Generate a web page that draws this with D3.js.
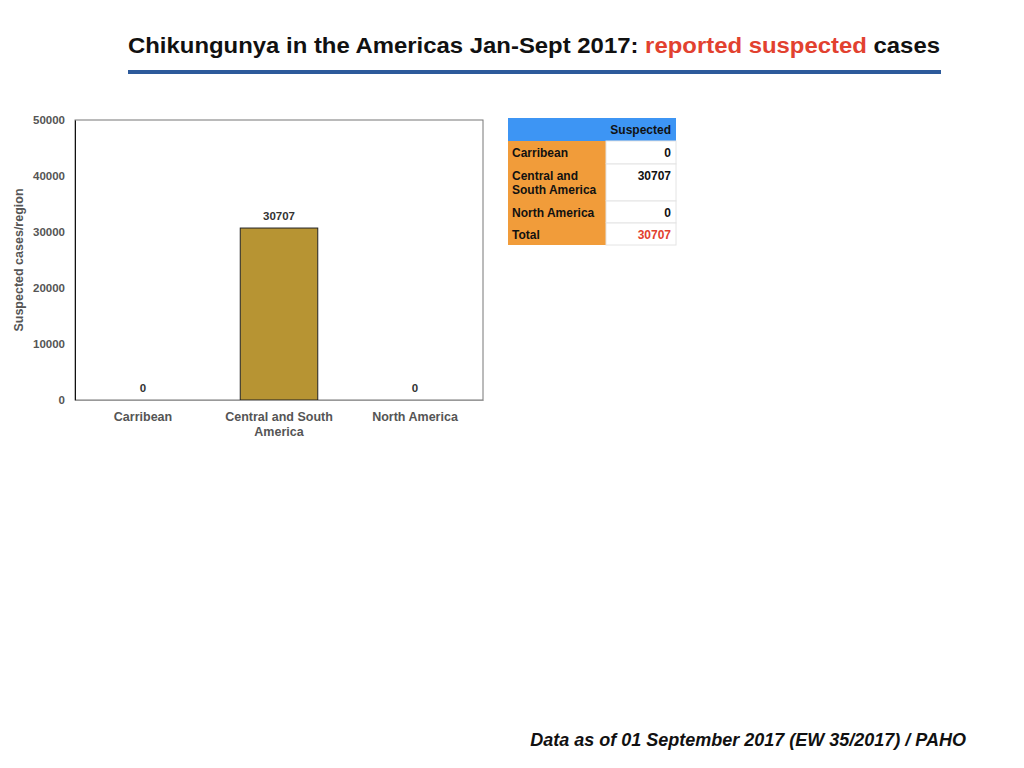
<!DOCTYPE html>
<html>
<head>
<meta charset="utf-8">
<script src="https://cdn.jsdelivr.net/npm/d3@7"></script>
<style>
  body { margin: 0; background: #fff; }
  svg { display: block; font-family: "Liberation Sans", Arial, sans-serif; }
</style>
</head>
<body>
<svg width="1024" height="768"></svg>
<script>
// chart data
let regions = ['Carribean', 'Central and South America', 'North America'];
let suspected = [0, 30707, 0];
let yTicks = [0, 10000, 20000, 30000, 40000, 50000];

// table data
let tableRows = ['Carribean', 'Central and South America', 'North America', 'Total'];
let tableValues = [0, 30707, 0, 30707];

let svg = d3.select('svg');

let plotLeft = 75, plotRight = 483, plotTop = 120, plotBottom = 400;

// title
let title = svg.append('text')
    .attr('x', 534)
    .attr('y', 53)
    .attr('text-anchor', 'middle')
    .attr('font-size', 22)
    .attr('font-weight', 'bold')
    .attr('fill', '#111')
    .attr('textLength', 812)
    .attr('lengthAdjust', 'spacingAndGlyphs');
title.append('tspan').text('Chikungunya in the Americas Jan-Sept 2017: ');
title.append('tspan').attr('fill', '#e2412f').text('reported suspected');
title.append('tspan').text(' cases');

svg.append('rect')
    .attr('x', 128).attr('y', 70)
    .attr('width', 813).attr('height', 4)
    .attr('fill', '#2d5a9b');

// scales
let xScale = d3.scaleBand()
    .domain(regions)
    .range([plotLeft, plotRight])
    .paddingInner(0.43)
    .paddingOuter(0.215);

let yScale = d3.scaleLinear()
    .domain([0, 50000])
    .range([plotBottom, plotTop]);

// frame
svg.append('rect')
    .attr('x', plotLeft).attr('y', plotTop)
    .attr('width', plotRight - plotLeft).attr('height', plotBottom - plotTop)
    .attr('fill', 'none')
    .attr('stroke', '#777')
    .attr('stroke-width', 1);

// bars
svg.selectAll('rect.bar')
    .data(suspected)
    .enter()
    .append('rect')
    .attr('class', 'bar')
    .attr('x', (d, i) => xScale(regions[i]))
    .attr('y', d => yScale(d))
    .attr('width', xScale.bandwidth())
    .attr('height', d => plotBottom - yScale(d))
    .attr('fill', '#b79433')
    .attr('stroke', '#222')
    .attr('stroke-width', d => d > 0 ? 1 : 0);

// bar labels
svg.selectAll('text.val')
    .data(suspected)
    .enter()
    .append('text')
    .attr('class', 'val')
    .attr('x', (d, i) => xScale(regions[i]) + xScale.bandwidth() / 2)
    .attr('y', d => yScale(d) - 8)
    .attr('text-anchor', 'middle')
    .attr('font-size', 11.5)
    .attr('font-weight', 'bold')
    .attr('fill', '#333')
    .text(d => d);

// y axis
let yAxis = d3.axisLeft(yScale)
    .tickValues(yTicks)
    .tickFormat(d3.format('d'))
    .tickSize(0)
    .tickPadding(10);
let gy = svg.append('g')
    .attr('transform', 'translate(' + plotLeft + ',0)')
    .call(yAxis);
gy.select('.domain').attr('stroke', '#111');
gy.selectAll('text')
    .attr('font-family', '"Liberation Sans", Arial, sans-serif')
    .attr('font-size', 11.5)
    .attr('font-weight', 'bold')
    .attr('fill', '#555');

// x axis
let xAxis = d3.axisBottom(xScale).tickSize(0).tickPadding(12);
let gx = svg.append('g')
    .attr('transform', 'translate(0,' + plotBottom + ')')
    .call(xAxis);
gx.select('.domain').attr('stroke', '#999');
gx.selectAll('text')
    .attr('font-family', '"Liberation Sans", Arial, sans-serif')
    .attr('font-size', 12.5)
    .attr('font-weight', 'bold')
    .attr('fill', '#555')
    .each(function(d) {
        let t = d3.select(this);
        if (d === 'Central and South America') {
            t.text(null);
            t.append('tspan').attr('x', 0).attr('dy', '0.71em').text('Central and South');
            t.append('tspan').attr('x', 0).attr('dy', '1.2em').text('America');
        }
    });

// y axis title
svg.append('text')
    .attr('transform', 'translate(23,260) rotate(-90)')
    .attr('text-anchor', 'middle')
    .attr('font-size', 12.5)
    .attr('font-weight', 'bold')
    .attr('fill', '#555')
    .text('Suspected cases/region');

// table
let tx = 508, tSplit = 606, tRight = 676;
let rowTops = [141, 164, 201, 223];
let rowHeights = [23, 37, 22, 22];

svg.append('rect')
    .attr('x', tx).attr('y', 118)
    .attr('width', tRight - tx).attr('height', 23)
    .attr('fill', '#3d95f4');
svg.append('text')
    .attr('x', tRight - 5).attr('y', 134)
    .attr('text-anchor', 'end')
    .attr('font-size', 12)
    .attr('font-weight', 'bold')
    .attr('fill', '#111')
    .text('Suspected');

let rows = svg.selectAll('g.row')
    .data(tableRows)
    .enter()
    .append('g')
    .attr('class', 'row');

rows.append('rect')
    .attr('x', tx)
    .attr('y', (d, i) => rowTops[i])
    .attr('width', tSplit - tx)
    .attr('height', (d, i) => rowHeights[i])
    .attr('fill', '#f19c3a');

rows.append('rect')
    .attr('x', tSplit)
    .attr('y', (d, i) => rowTops[i])
    .attr('width', tRight - tSplit)
    .attr('height', (d, i) => rowHeights[i])
    .attr('fill', '#fff')
    .attr('stroke', '#e4e4e4')
    .attr('stroke-width', 1);

rows.append('text')
    .attr('x', tx + 4)
    .attr('y', (d, i) => rowTops[i] + 16)
    .attr('font-size', 12)
    .attr('font-weight', 'bold')
    .attr('fill', '#111')
    .each(function(d) {
        let t = d3.select(this);
        if (d === 'Central and South America') {
            t.append('tspan').attr('x', tx + 4).text('Central and');
            t.append('tspan').attr('x', tx + 4).attr('dy', 14).text('South America');
        } else {
            t.text(d);
        }
    });

rows.append('text')
    .attr('x', tRight - 5)
    .attr('y', (d, i) => rowTops[i] + 16)
    .attr('text-anchor', 'end')
    .attr('font-size', 12)
    .attr('font-weight', 'bold')
    .attr('fill', (d, i) => d === 'Total' ? '#e2412f' : '#111')
    .text((d, i) => tableValues[i]);

// footer
svg.append('text')
    .attr('x', 966)
    .attr('y', 746)
    .attr('text-anchor', 'end')
    .attr('font-size', 18)
    .attr('font-weight', 'bold')
    .attr('font-style', 'italic')
    .attr('fill', '#111')
    .text('Data as of 01 September 2017 (EW 35/2017) / PAHO');
</script>
</body>
</html>
